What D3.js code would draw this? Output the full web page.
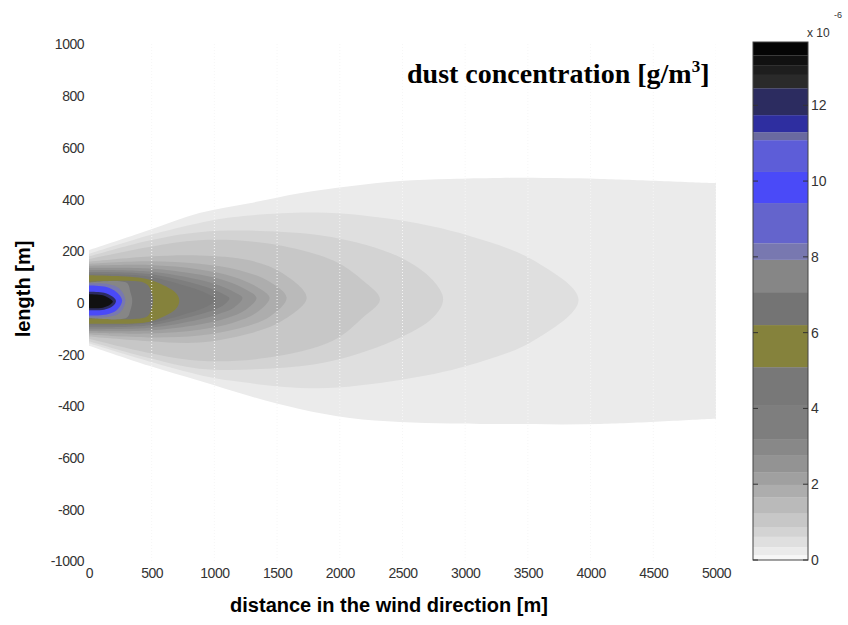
<!DOCTYPE html>
<html>
<head>
<meta charset="utf-8">
<script src="https://cdn.jsdelivr.net/npm/d3@7"></script>
<style>
  body { margin: 0; background: #fff; }
  text { font-family: 'Liberation Sans', Arial, sans-serif; }
</style>
</head>
<body>
<script>
// colour levels of the colorbar, in units of 1e-6 g/m3
const levels = [0, 0.13, 0.34, 0.61, 0.87, 1.24, 1.66, 1.98, 2.32, 2.77, 3.17, 4.09, 5.09,
  6.20, 7.07, 7.92, 8.36, 9.42, 10.24, 11.08, 11.29, 11.74, 12.45, 12.80, 13.06, 13.32, 13.67]
const levelColors = ['#f7f7f7', '#ebebeb', '#dfdfdf', '#d3d3d3', '#c7c7c7', '#bababa', '#adadad',
  '#a0a0a0', '#939393', '#888888', '#7e7e7e', '#787878', '#85823c', '#747474', '#868686',
  '#7878b0', '#6464cc', '#4a4af8', '#5d5dd8', '#6a6aa0', '#2e2ea0', '#2c2c60', '#2a2a2a',
  '#1e1e1e', '#111111', '#050505']

const xTicks = [0, 500, 1000, 1500, 2000, 2500, 3000, 3500, 4000, 4500, 5000]
const yTicks = [-1000, -800, -600, -400, -200, 0, 200, 400, 600, 800, 1000]
const cbTicks = [0, 2, 4, 6, 8, 10, 12]

// contour outlines: [distance m, upper edge m, lower edge m]
// a row whose edges are equal is the downwind tip
const contourA = [[0, 202, -167], [480, 280, -245], [880, 346, -303], [1280, 384, -362], [1680, 423, -412],
  [2080, 450, -447], [2480, 470, -462], [2880, 478, -468], [3280, 482, -470], [4080, 478, -470],
  [4990, 462, -450], [5000, 462, -450]]
const contourB = [[0, 188, -158], [480, 260, -228], [880, 308, -280], [1144, 330, -303], [1816, 348, -332],
  [2480, 318, -300], [3016, 260, -245], [3544, 163, -148], [3904, 10, 10]]
const contourC = [[0, 178, -150], [480, 240, -215], [880, 272, -256], [1416, 276, -256], [1944, 252, -225],
  [2480, 175, -136], [2744, 85, -58], [2824, 12, 12]]
const contourD = [[0, 168, -140], [480, 215, -195], [880, 241, -225], [1416, 229, -214], [1944, 163, -148],
  [2184, 85, -58], [2320, 12, 12]]
const contourE = [[0, 158, -132], [480, 178, -150], [880, 182, -155], [1280, 163, -120], [1544, 113, -70], [1736, 18, 18]]
const contourF = [[0, 150, -124], [480, 160, -135], [880, 150, -128], [1200, 125, -100], [1440, 80, -55], [1576, 18, 18]]
const contourG = [[0, 142, -117], [480, 145, -120], [880, 128, -105], [1150, 100, -78], [1340, 60, -38], [1440, 18, 18]]
const contourH = [[0, 134, -110], [480, 132, -108], [880, 108, -85], [1100, 82, -60], [1250, 50, -28], [1336, 18, 18]]
const contourI = [[0, 126, -103], [480, 120, -98], [880, 88, -66], [1050, 64, -42], [1160, 40, -18], [1224, 18, 18]]
const contourJ = [[0, 118, -96], [480, 110, -88], [880, 68, -46], [1000, 48, -28], [1080, 30, -8], [1120, 16, 16]]
const contourK = [[0, 111, -88], [480, 100, -80], [800, 60, -40], [940, 35, -15], [1016, 12, 12]]
const contourYellow = [[0, 105, -82], [440, 93, -78], [560, 74, -62], [696, 35, -23], [720, 8, 8]]
const contourL = [[0, 80, -62], [430, 78, -60], [480, 60, -45], [510, 10, 10]]
const contourM = [[0, 77, -60], [300, 76, -59], [330, 40, -30], [345, 8, 8]]
const contourN = [[0, 74, -58], [150, 72, -56], [240, 55, -42], [290, 8, 8]]
const contourP = [[0, 66, -50], [140, 60, -46], [220, 40, -30], [264, 8, 8]]
const contourS = [[0, 42, -30], [120, 38, -28], [190, 22, -14], [215, 6, 6]]
const contourT = [[0, 32, -22], [110, 28, -20], [170, 14, -8], [190, 4, 4]]

// which colour band each outline fills with, outermost first
const contourLevels = [1, 2, 3, 4, 5, 6, 7, 8, 9, 10, 11, 12, 13, 14, 15, 17, 21, 24]
const contourRows = [contourA, contourB, contourC, contourD, contourE, contourF, contourG, contourH,
  contourI, contourJ, contourK, contourYellow, contourL, contourM, contourN, contourP, contourS, contourT]

const width = 848
const height = 625

let svg = d3.select('body').append('svg')
  .attr('width', width)
  .attr('height', height)

// scales
let x = d3.scaleLinear().domain([0, 5000]).range([89, 716])
let y = d3.scaleLinear().domain([-1000, 1000]).range([561, 44])
let c = d3.scaleLinear().domain([0, 13.67]).range([560, 42])

svg.append('clipPath').attr('id', 'plot')
  .append('rect')
  .attr('x', x(0)).attr('y', y(1000))
  .attr('width', x(5000) - x(0)).attr('height', y(-1000) - y(1000))

let line = d3.line()
  .x(d => x(d[0]))
  .y(d => y(d[1]))
  .curve(d3.curveCatmullRom.alpha(0.5))

function outline(rows) {
  let top = rows.map(r => [r[0], r[1]])
  let bottom = rows.filter(r => r[1] !== r[2]).reverse().map(r => [r[0], r[2]])
  return line(top.concat(bottom)) + 'Z'
}

let plot = svg.append('g').attr('clip-path', 'url(#plot)')

plot.selectAll('path.band')
  .data(contourRows)
  .enter()
  .append('path')
  .attr('class', 'band')
  .attr('d', outline)
  .attr('fill', (d, i) => levelColors[contourLevels[i]])

// dotted vertical grid, only visible over the plume
plot.selectAll('line.grid')
  .data(xTicks.filter(d => d > 0))
  .enter()
  .append('line')
  .attr('x1', d => x(d)).attr('x2', d => x(d))
  .attr('y1', y(1000)).attr('y2', y(-1000))
  .attr('stroke', '#f6f6f6')
  .attr('stroke-width', 1)
  .attr('stroke-dasharray', '1,2')

// axes
let xAxis = svg.append('g')
  .attr('transform', 'translate(0,573)')
  .call(d3.axisBottom(x).tickValues(xTicks).tickFormat(d => String(d)).tickSize(0).tickPadding(0))
xAxis.select('.domain').remove()
xAxis.selectAll('text')
  .attr('y', 0).attr('dy', '0.35em')
  .style('font-family', "'Liberation Sans', Arial, sans-serif")
  .style('font-size', '14px')
  .style('letter-spacing', '-0.5px')
  .attr('fill', '#333')

let yAxis = svg.append('g')
  .attr('transform', 'translate(84,0)')
  .call(d3.axisLeft(y).tickValues(yTicks).tickFormat(d => String(d)).tickSize(0).tickPadding(0))
yAxis.select('.domain').remove()
yAxis.selectAll('text')
  .attr('x', 0).attr('dy', '0.35em')
  .style('font-family', "'Liberation Sans', Arial, sans-serif")
  .style('font-size', '14px')
  .style('letter-spacing', '-0.5px')
  .attr('fill', '#333')

svg.append('text')
  .attr('x', 389).attr('y', 612)
  .attr('text-anchor', 'middle')
  .style('font-weight', 'bold').style('font-size', '20px')
  .text('distance in the wind direction [m]')

svg.append('text')
  .attr('transform', 'translate(30,289) rotate(-90)')
  .attr('text-anchor', 'middle')
  .style('font-weight', 'bold').style('font-size', '20px')
  .text('length [m]')

// title
let title = svg.append('text')
  .attr('x', 407).attr('y', 83)
  .style('font-family', "'Liberation Serif', 'Times New Roman', serif")
  .style('font-weight', 'bold').style('font-size', '28px')
title.append('tspan').text('dust concentration [g/m')
title.append('tspan').attr('dy', -11).style('font-size', '17px').text('3')
title.append('tspan').attr('dy', 11).text(']')

// colorbar
let cb = svg.append('g')
cb.selectAll('rect.band')
  .data(levelColors)
  .enter()
  .append('rect')
  .attr('class', 'band')
  .attr('x', 753).attr('width', 55)
  .attr('y', (d, i) => c(levels[i + 1]))
  .attr('height', (d, i) => c(levels[i]) - c(levels[i + 1]))
  .attr('fill', d => d)

cb.append('rect')
  .attr('x', 753).attr('y', c(13.67))
  .attr('width', 55).attr('height', c(0) - c(13.67))
  .attr('fill', 'none').attr('stroke', '#444').attr('stroke-width', 1)

cb.selectAll('line.tl')
  .data(cbTicks)
  .enter()
  .append('line')
  .attr('x1', 753).attr('x2', 758)
  .attr('y1', d => c(d)).attr('y2', d => c(d))
  .attr('stroke', '#333')
cb.selectAll('line.tr')
  .data(cbTicks)
  .enter()
  .append('line')
  .attr('x1', 803).attr('x2', 808)
  .attr('y1', d => c(d)).attr('y2', d => c(d))
  .attr('stroke', '#333')
cb.selectAll('text.tick')
  .data(cbTicks)
  .enter()
  .append('text')
  .attr('x', 811).attr('y', d => c(d)).attr('dy', '0.35em')
  .style('font-size', '14px').attr('fill', '#333')
  .text(d => d)

cb.append('text').attr('x', 807).attr('y', 37)
  .style('font-size', '12px').attr('fill', '#333').text('x 10')
cb.append('text').attr('x', 834).attr('y', 18)
  .style('font-size', '9px').attr('fill', '#333').text('-6')
</script>
</body>
</html>
